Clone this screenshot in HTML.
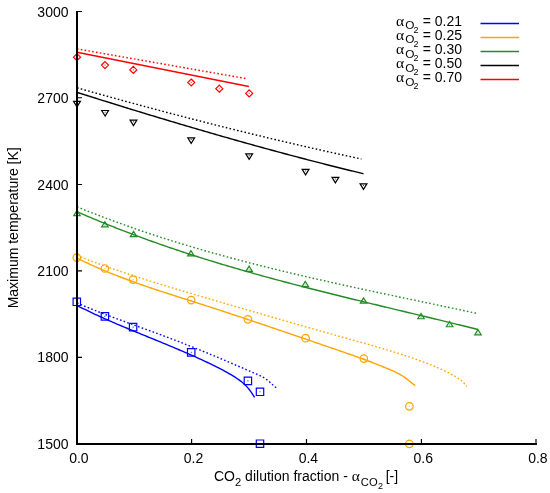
<!DOCTYPE html>
<html><head><meta charset="utf-8"><style>
html,body{margin:0;padding:0;background:#fff;}
svg{display:block;will-change:transform;}
text{font-family:"Liberation Sans",sans-serif;font-size:14px;fill:#000;}
</style></head><body>
<svg width="550" height="493" viewBox="0 0 550 493">
<rect width="550" height="493" fill="#fff"/>
<path d="M77.00,52.30L248.90,86.47" stroke="#ff0000" stroke-width="1.4" fill="none"/>
<path d="M77.00,48.88L247.60,78.85" stroke="#ff0000" stroke-width="1.4" fill="none" stroke-dasharray="1.6 2.25"/>
<path d="M77.00,92.38L79.00,93.01L81.00,93.64L83.00,94.27L85.00,94.90L87.00,95.53L89.00,96.16L91.00,96.79L93.00,97.42L95.00,98.04L97.00,98.67L99.00,99.30L101.00,99.92L103.00,100.55L105.00,101.17L107.00,101.79L109.00,102.42L111.00,103.04L113.00,103.66L115.00,104.28L117.00,104.90L119.00,105.52L121.00,106.14L123.00,106.75L125.00,107.37L127.00,107.99L129.00,108.60L131.00,109.22L133.00,109.83L135.00,110.44L137.00,111.06L139.00,111.67L141.00,112.28L143.00,112.89L145.00,113.50L147.00,114.10L149.00,114.71L151.00,115.32L153.00,115.92L155.00,116.53L157.00,117.13L159.00,117.74L161.00,118.34L163.00,118.94L165.00,119.54L167.00,120.14L169.00,120.74L171.00,121.34L173.00,121.93L175.00,122.53L177.00,123.13L179.00,123.72L181.00,124.31L183.00,124.91L185.00,125.50L187.00,126.09L189.00,126.68L191.00,127.27L193.00,127.85L195.00,128.44L197.00,129.03L199.00,129.61L201.00,130.19L203.00,130.78L205.00,131.36L207.00,131.94L209.00,132.52L211.00,133.10L213.00,133.68L215.00,134.25L217.00,134.83L219.00,135.40L221.00,135.98L223.00,136.55L225.00,137.12L227.00,137.69L229.00,138.26L231.00,138.83L233.00,139.40L235.00,139.96L237.00,140.53L239.00,141.09L241.00,141.65L243.00,142.22L245.00,142.78L247.00,143.34L249.00,143.89L251.00,144.45L253.00,145.01L255.00,145.56L257.00,146.12L259.00,146.67L261.00,147.22L263.00,147.77L265.00,148.32L267.00,148.87L269.00,149.41L271.00,149.96L273.00,150.50L275.00,151.04L277.00,151.59L279.00,152.13L281.00,152.67L283.00,153.20L285.00,153.74L287.00,154.27L289.00,154.81L291.00,155.34L293.00,155.87L295.00,156.40L297.00,156.93L299.00,157.46L301.00,157.99L303.00,158.51L305.00,159.03L307.00,159.56L309.00,160.08L311.00,160.60L313.00,161.12L315.00,161.63L317.00,162.15L319.00,162.66L321.00,163.18L323.00,163.69L325.00,164.20L327.00,164.71L329.00,165.21L331.00,165.72L333.00,166.22L335.00,166.73L337.00,167.23L339.00,167.73L341.00,168.23L343.00,168.72L345.00,169.22L347.00,169.71L349.00,170.21L351.00,170.70L353.00,171.19L355.00,171.68L357.00,172.16L359.00,172.65L361.00,173.13L363.00,173.62L363.50,173.74" stroke="#000000" stroke-width="1.4" fill="none"/>
<path d="M77.00,87.77L79.00,88.34L81.00,88.91L83.00,89.47L85.00,90.04L87.00,90.61L89.00,91.17L91.00,91.74L93.00,92.30L95.00,92.86L97.00,93.42L99.00,93.98L101.00,94.54L103.00,95.10L105.00,95.66L107.00,96.21L109.00,96.77L111.00,97.32L113.00,97.88L115.00,98.43L117.00,98.98L119.00,99.53L121.00,100.08L123.00,100.63L125.00,101.18L127.00,101.72L129.00,102.27L131.00,102.82L133.00,103.36L135.00,103.90L137.00,104.44L139.00,104.99L141.00,105.53L143.00,106.07L145.00,106.60L147.00,107.14L149.00,107.68L151.00,108.21L153.00,108.75L155.00,109.28L157.00,109.81L159.00,110.35L161.00,110.88L163.00,111.41L165.00,111.94L167.00,112.46L169.00,112.99L171.00,113.52L173.00,114.04L175.00,114.56L177.00,115.09L179.00,115.61L181.00,116.13L183.00,116.65L185.00,117.17L187.00,117.69L189.00,118.20L191.00,118.72L193.00,119.24L195.00,119.75L197.00,120.26L199.00,120.78L201.00,121.29L203.00,121.80L205.00,122.31L207.00,122.81L209.00,123.32L211.00,123.83L213.00,124.33L215.00,124.84L217.00,125.34L219.00,125.84L221.00,126.35L223.00,126.85L225.00,127.34L227.00,127.84L229.00,128.34L231.00,128.84L233.00,129.33L235.00,129.83L237.00,130.32L239.00,130.81L241.00,131.30L243.00,131.79L245.00,132.28L247.00,132.77L249.00,133.26L251.00,133.75L253.00,134.23L255.00,134.72L257.00,135.20L259.00,135.68L261.00,136.16L263.00,136.64L265.00,137.12L267.00,137.60L269.00,138.08L271.00,138.56L273.00,139.03L275.00,139.50L277.00,139.98L279.00,140.45L281.00,140.92L283.00,141.39L285.00,141.86L287.00,142.33L289.00,142.80L291.00,143.26L293.00,143.73L295.00,144.19L297.00,144.66L299.00,145.12L301.00,145.58L303.00,146.04L305.00,146.50L307.00,146.96L309.00,147.41L311.00,147.87L313.00,148.32L315.00,148.78L317.00,149.23L319.00,149.68L321.00,150.13L323.00,150.58L325.00,151.03L327.00,151.48L329.00,151.92L331.00,152.37L333.00,152.81L335.00,153.26L337.00,153.70L339.00,154.14L341.00,154.58L343.00,155.02L345.00,155.46L347.00,155.90L349.00,156.33L351.00,156.77L353.00,157.20L355.00,157.63L357.00,158.07L359.00,158.50L361.00,158.93L361.40,159.01" stroke="#000000" stroke-width="1.4" fill="none" stroke-dasharray="1.6 2.25"/>
<path d="M77.00,211.71L79.00,212.58L81.00,213.45L83.00,214.31L85.00,215.17L87.00,216.02L89.00,216.87L91.00,217.72L93.00,218.56L95.00,219.39L97.00,220.22L99.00,221.05L101.00,221.87L103.00,222.69L105.00,223.50L107.00,224.31L109.00,225.11L111.00,225.91L113.00,226.70L115.00,227.49L117.00,228.28L119.00,229.06L121.00,229.84L123.00,230.61L125.00,231.38L127.00,232.14L129.00,232.91L131.00,233.66L133.00,234.41L135.00,235.16L137.00,235.91L139.00,236.65L141.00,237.38L143.00,238.12L145.00,238.85L147.00,239.57L149.00,240.29L151.00,241.01L153.00,241.72L155.00,242.43L157.00,243.14L159.00,243.84L161.00,244.54L163.00,245.24L165.00,245.93L167.00,246.61L169.00,247.30L171.00,247.98L173.00,248.66L175.00,249.33L177.00,250.00L179.00,250.67L181.00,251.33L183.00,251.99L185.00,252.65L187.00,253.31L189.00,253.96L191.00,254.60L193.00,255.25L195.00,255.89L197.00,256.53L199.00,257.16L201.00,257.80L203.00,258.43L205.00,259.05L207.00,259.67L209.00,260.30L211.00,260.91L213.00,261.53L215.00,262.14L217.00,262.75L219.00,263.35L221.00,263.96L223.00,264.56L225.00,265.16L227.00,265.75L229.00,266.34L231.00,266.93L233.00,267.52L235.00,268.11L237.00,268.69L239.00,269.27L241.00,269.85L243.00,270.42L245.00,270.99L247.00,271.56L249.00,272.13L251.00,272.70L253.00,273.26L255.00,273.82L257.00,274.38L259.00,274.94L261.00,275.49L263.00,276.05L265.00,276.60L267.00,277.15L269.00,277.69L271.00,278.24L273.00,278.78L275.00,279.32L277.00,279.86L279.00,280.40L281.00,280.93L283.00,281.46L285.00,282.00L287.00,282.52L289.00,283.05L291.00,283.58L293.00,284.10L295.00,284.63L297.00,285.15L299.00,285.67L301.00,286.19L303.00,286.70L305.00,287.22L307.00,287.73L309.00,288.24L311.00,288.75L313.00,289.26L315.00,289.77L317.00,290.28L319.00,290.78L321.00,291.29L323.00,291.79L325.00,292.29L327.00,292.80L329.00,293.29L331.00,293.79L333.00,294.29L335.00,294.79L337.00,295.28L339.00,295.78L341.00,296.27L343.00,296.76L345.00,297.26L347.00,297.75L349.00,298.24L351.00,298.73L353.00,299.21L355.00,299.70L357.00,300.19L359.00,300.68L361.00,301.16L363.00,301.65L365.00,302.13L367.00,302.62L369.00,303.10L371.00,303.58L373.00,304.07L375.00,304.55L377.00,305.03L379.00,305.51L381.00,305.99L383.00,306.47L385.00,306.95L387.00,307.43L389.00,307.91L391.00,308.39L393.00,308.87L395.00,309.35L397.00,309.83L399.00,310.31L401.00,310.79L403.00,311.27L405.00,311.75L407.00,312.23L409.00,312.71L411.00,313.19L413.00,313.67L415.00,314.15L417.00,314.63L419.00,315.11L421.00,315.59L423.00,316.07L425.00,316.55L427.00,317.03L429.00,317.51L431.00,317.99L433.00,318.48L435.00,318.96L437.00,319.44L439.00,319.93L441.00,320.41L443.00,320.90L445.00,321.38L447.00,321.87L449.00,322.36L451.00,322.85L453.00,323.33L455.00,323.82L457.00,324.31L459.00,324.80L461.00,325.30L463.00,325.79L465.00,326.28L467.00,326.78L469.00,327.27L471.00,327.77L473.00,328.27L475.00,328.77L477.00,329.27L478.00,329.52" stroke="#228b22" stroke-width="1.4" fill="none"/>
<path d="M77.00,206.81L79.00,207.63L81.00,208.44L83.00,209.24L85.00,210.04L87.00,210.84L89.00,211.63L91.00,212.41L93.00,213.20L95.00,213.97L97.00,214.75L99.00,215.52L101.00,216.28L103.00,217.04L105.00,217.80L107.00,218.55L109.00,219.30L111.00,220.04L113.00,220.78L115.00,221.51L117.00,222.24L119.00,222.97L121.00,223.69L123.00,224.41L125.00,225.13L127.00,225.84L129.00,226.54L131.00,227.25L133.00,227.94L135.00,228.64L137.00,229.33L139.00,230.02L141.00,230.70L143.00,231.38L145.00,232.06L147.00,232.73L149.00,233.40L151.00,234.06L153.00,234.72L155.00,235.38L157.00,236.03L159.00,236.68L161.00,237.33L163.00,237.97L165.00,238.61L167.00,239.25L169.00,239.88L171.00,240.51L173.00,241.14L175.00,241.76L177.00,242.38L179.00,243.00L181.00,243.61L183.00,244.22L185.00,244.83L187.00,245.43L189.00,246.03L191.00,246.63L193.00,247.22L195.00,247.81L197.00,248.40L199.00,248.99L201.00,249.57L203.00,250.15L205.00,250.72L207.00,251.30L209.00,251.87L211.00,252.43L213.00,253.00L215.00,253.56L217.00,254.12L219.00,254.68L221.00,255.23L223.00,255.78L225.00,256.33L227.00,256.87L229.00,257.42L231.00,257.96L233.00,258.50L235.00,259.03L237.00,259.56L239.00,260.09L241.00,260.62L243.00,261.15L245.00,261.67L247.00,262.19L249.00,262.71L251.00,263.23L253.00,263.74L255.00,264.25L257.00,264.76L259.00,265.27L261.00,265.77L263.00,266.28L265.00,266.78L267.00,267.28L269.00,267.77L271.00,268.27L273.00,268.76L275.00,269.25L277.00,269.74L279.00,270.23L281.00,270.71L283.00,271.19L285.00,271.68L287.00,272.15L289.00,272.63L291.00,273.11L293.00,273.58L295.00,274.05L297.00,274.53L299.00,274.99L301.00,275.46L303.00,275.93L305.00,276.39L307.00,276.85L309.00,277.32L311.00,277.78L313.00,278.23L315.00,278.69L317.00,279.15L319.00,279.60L321.00,280.05L323.00,280.50L325.00,280.95L327.00,281.40L329.00,281.85L331.00,282.30L333.00,282.74L335.00,283.19L337.00,283.63L339.00,284.07L341.00,284.51L343.00,284.95L345.00,285.39L347.00,285.83L349.00,286.26L351.00,286.70L353.00,287.14L355.00,287.57L357.00,288.00L359.00,288.43L361.00,288.87L363.00,289.30L365.00,289.73L367.00,290.16L369.00,290.58L371.00,291.01L373.00,291.44L375.00,291.87L377.00,292.29L379.00,292.72L381.00,293.14L383.00,293.57L385.00,293.99L387.00,294.41L389.00,294.84L391.00,295.26L393.00,295.68L395.00,296.10L397.00,296.53L399.00,296.95L401.00,297.37L403.00,297.79L405.00,298.21L407.00,298.63L409.00,299.05L411.00,299.47L413.00,299.89L415.00,300.31L417.00,300.73L419.00,301.15L421.00,301.57L423.00,301.99L425.00,302.41L427.00,302.83L429.00,303.25L431.00,303.67L433.00,304.09L435.00,304.51L437.00,304.93L439.00,305.36L441.00,305.78L443.00,306.20L445.00,306.62L447.00,307.04L449.00,307.47L451.00,307.89L453.00,308.32L455.00,308.74L457.00,309.16L459.00,309.59L461.00,310.02L463.00,310.44L465.00,310.87L467.00,311.30L469.00,311.73L471.00,312.16L473.00,312.58L475.00,313.02L476.90,313.43" stroke="#228b22" stroke-width="1.4" fill="none" stroke-dasharray="1.6 2.25"/>
<path d="M77.00,258.20L79.00,259.18L81.00,260.15L83.00,261.11L85.00,262.05L87.00,262.98L89.00,263.91L91.00,264.82L93.00,265.71L95.00,266.60L97.00,267.48L99.00,268.35L101.00,269.20L103.00,270.05L105.00,270.89L107.00,271.71L109.00,272.53L111.00,273.34L113.00,274.14L115.00,274.93L117.00,275.72L119.00,276.49L121.00,277.26L123.00,278.02L125.00,278.77L127.00,279.51L129.00,280.25L131.00,280.98L133.00,281.71L135.00,282.43L137.00,283.14L139.00,283.84L141.00,284.55L143.00,285.24L145.00,285.93L147.00,286.62L149.00,287.30L151.00,287.97L153.00,288.65L155.00,289.31L157.00,289.98L159.00,290.64L161.00,291.30L163.00,291.95L165.00,292.60L167.00,293.25L169.00,293.90L171.00,294.54L173.00,295.19L175.00,295.83L177.00,296.47L179.00,297.11L181.00,297.74L183.00,298.38L185.00,299.02L187.00,299.65L189.00,300.29L191.00,300.93L193.00,301.56L195.00,302.20L197.00,302.84L199.00,303.48L201.00,304.12L203.00,304.76L205.00,305.41L207.00,306.05L209.00,306.70L211.00,307.35L213.00,308.00L215.00,308.65L217.00,309.30L219.00,309.95L221.00,310.61L223.00,311.26L225.00,311.92L227.00,312.58L229.00,313.24L231.00,313.90L233.00,314.56L235.00,315.22L237.00,315.88L239.00,316.55L241.00,317.21L243.00,317.88L245.00,318.55L247.00,319.22L249.00,319.88L251.00,320.55L253.00,321.23L255.00,321.90L257.00,322.57L259.00,323.24L261.00,323.92L263.00,324.59L265.00,325.27L267.00,325.94L269.00,326.62L271.00,327.30L273.00,327.98L275.00,328.66L277.00,329.33L279.00,330.01L281.00,330.69L283.00,331.38L285.00,332.06L287.00,332.74L289.00,333.42L291.00,334.10L293.00,334.79L295.00,335.47L297.00,336.15L299.00,336.84L301.00,337.52L303.00,338.20L305.00,338.89L307.00,339.57L309.00,340.26L311.00,340.94L313.00,341.63L315.00,342.31L317.00,343.00L319.00,343.68L321.00,344.37L323.00,345.05L325.00,345.74L327.00,346.43L329.00,347.11L331.00,347.80L333.00,348.48L335.00,349.17L337.00,349.85L339.00,350.54L341.00,351.23L343.00,351.92L345.00,352.61L347.00,353.31L349.00,354.01L351.00,354.71L353.00,355.42L355.00,356.13L357.00,356.84L359.00,357.57L361.00,358.29L363.00,359.02L365.00,359.76L367.00,360.51L369.00,361.26L371.00,362.01L373.00,362.78L375.00,363.55L377.00,364.34L379.00,365.13L381.00,365.93L383.00,366.74L385.00,367.56L387.00,368.39L389.00,369.23L391.00,370.08L393.00,370.96L395.00,371.87L397.00,372.84L399.00,373.88L401.00,375.02L403.00,376.27L405.00,377.66L407.00,379.17L409.00,380.77L411.00,382.39L413.00,383.95L415.00,385.40L415.30,385.60" stroke="#ffa500" stroke-width="1.4" fill="none"/>
<path d="M77.00,255.50L79.00,256.29L81.00,257.08L83.00,257.85L85.00,258.62L87.00,259.39L89.00,260.15L91.00,260.90L93.00,261.65L95.00,262.40L97.00,263.13L99.00,263.87L101.00,264.59L103.00,265.31L105.00,266.03L107.00,266.74L109.00,267.45L111.00,268.15L113.00,268.85L115.00,269.54L117.00,270.23L119.00,270.91L121.00,271.59L123.00,272.27L125.00,272.94L127.00,273.61L129.00,274.27L131.00,274.93L133.00,275.58L135.00,276.24L137.00,276.89L139.00,277.53L141.00,278.17L143.00,278.81L145.00,279.45L147.00,280.08L149.00,280.71L151.00,281.34L153.00,281.96L155.00,282.58L157.00,283.20L159.00,283.82L161.00,284.43L163.00,285.05L165.00,285.66L167.00,286.27L169.00,286.87L171.00,287.48L173.00,288.08L175.00,288.68L177.00,289.28L179.00,289.88L181.00,290.48L183.00,291.07L185.00,291.67L187.00,292.26L189.00,292.85L191.00,293.44L193.00,294.03L195.00,294.63L197.00,295.22L199.00,295.81L201.00,296.39L203.00,296.98L205.00,297.57L207.00,298.16L209.00,298.75L211.00,299.34L213.00,299.92L215.00,300.51L217.00,301.10L219.00,301.68L221.00,302.27L223.00,302.86L225.00,303.44L227.00,304.03L229.00,304.61L231.00,305.20L233.00,305.78L235.00,306.37L237.00,306.95L239.00,307.53L241.00,308.12L243.00,308.70L245.00,309.28L247.00,309.86L249.00,310.45L251.00,311.03L253.00,311.61L255.00,312.19L257.00,312.77L259.00,313.35L261.00,313.93L263.00,314.51L265.00,315.09L267.00,315.66L269.00,316.24L271.00,316.82L273.00,317.40L275.00,317.97L277.00,318.55L279.00,319.13L281.00,319.70L283.00,320.28L285.00,320.85L287.00,321.43L289.00,322.00L291.00,322.57L293.00,323.15L295.00,323.72L297.00,324.29L299.00,324.86L301.00,325.43L303.00,326.01L305.00,326.58L307.00,327.15L309.00,327.72L311.00,328.28L313.00,328.85L315.00,329.42L317.00,329.99L319.00,330.56L321.00,331.12L323.00,331.69L325.00,332.26L327.00,332.82L329.00,333.39L331.00,333.95L333.00,334.51L335.00,335.08L337.00,335.64L339.00,336.20L341.00,336.76L343.00,337.33L345.00,337.89L347.00,338.45L349.00,339.01L351.00,339.57L353.00,340.13L355.00,340.68L357.00,341.24L359.00,341.80L361.00,342.36L363.00,342.93L365.00,343.49L367.00,344.05L369.00,344.62L371.00,345.19L373.00,345.76L375.00,346.34L377.00,346.92L379.00,347.50L381.00,348.09L383.00,348.68L385.00,349.27L387.00,349.87L389.00,350.48L391.00,351.09L393.00,351.71L395.00,352.33L397.00,352.96L399.00,353.59L401.00,354.24L403.00,354.89L405.00,355.55L407.00,356.21L409.00,356.89L411.00,357.57L413.00,358.26L415.00,358.96L417.00,359.67L419.00,360.40L421.00,361.13L423.00,361.87L425.00,362.62L427.00,363.39L429.00,364.17L431.00,364.96L433.00,365.78L435.00,366.61L437.00,367.45L439.00,368.32L441.00,369.21L443.00,370.12L445.00,371.05L447.00,372.00L449.00,372.99L451.00,374.03L453.00,375.12L455.00,376.29L457.00,377.53L459.00,378.86L461.00,380.34L463.00,382.09L465.00,384.20L466.80,386.50" stroke="#ffa500" stroke-width="1.4" fill="none" stroke-dasharray="1.6 2.25"/>
<path d="M77.00,305.50L79.00,306.51L81.00,307.52L83.00,308.51L85.00,309.49L87.00,310.46L89.00,311.43L91.00,312.38L93.00,313.32L95.00,314.26L97.00,315.18L99.00,316.10L101.00,317.01L103.00,317.91L105.00,318.81L107.00,319.70L109.00,320.58L111.00,321.45L113.00,322.32L115.00,323.18L117.00,324.04L119.00,324.90L121.00,325.74L123.00,326.59L125.00,327.43L127.00,328.26L129.00,329.10L131.00,329.93L133.00,330.75L135.00,331.58L137.00,332.40L139.00,333.22L141.00,334.04L143.00,334.86L145.00,335.68L147.00,336.49L149.00,337.31L151.00,338.13L153.00,338.94L155.00,339.76L157.00,340.58L159.00,341.40L161.00,342.22L163.00,343.05L165.00,343.87L167.00,344.70L169.00,345.53L171.00,346.37L173.00,347.20L175.00,348.05L177.00,348.89L179.00,349.74L181.00,350.60L183.00,351.45L185.00,352.32L187.00,353.19L189.00,354.06L191.00,354.95L193.00,355.83L195.00,356.73L197.00,357.63L199.00,358.54L201.00,359.46L203.00,360.38L205.00,361.31L207.00,362.25L209.00,363.20L211.00,364.16L213.00,365.13L215.00,366.11L217.00,367.11L219.00,368.12L221.00,369.16L223.00,370.21L225.00,371.30L227.00,372.41L229.00,373.55L231.00,374.72L233.00,375.93L235.00,377.17L237.00,378.47L239.00,379.84L241.00,381.32L243.00,382.97L245.00,384.80L247.00,386.87L249.00,389.21L251.00,391.83L253.00,394.78L254.60,397.40" stroke="#0000ff" stroke-width="1.4" fill="none"/>
<path d="M77.00,303.00L79.00,303.85L81.00,304.70L83.00,305.54L85.00,306.37L87.00,307.20L89.00,308.01L91.00,308.82L93.00,309.62L95.00,310.41L97.00,311.20L99.00,311.98L101.00,312.76L103.00,313.53L105.00,314.29L107.00,315.05L109.00,315.81L111.00,316.56L113.00,317.31L115.00,318.05L117.00,318.79L119.00,319.53L121.00,320.26L123.00,320.99L125.00,321.72L127.00,322.45L129.00,323.18L131.00,323.90L133.00,324.63L135.00,325.35L137.00,326.08L139.00,326.80L141.00,327.53L143.00,328.26L145.00,328.99L147.00,329.71L149.00,330.45L151.00,331.18L153.00,331.92L155.00,332.65L157.00,333.39L159.00,334.14L161.00,334.88L163.00,335.63L165.00,336.38L167.00,337.14L169.00,337.90L171.00,338.66L173.00,339.42L175.00,340.18L177.00,340.95L179.00,341.72L181.00,342.50L183.00,343.28L185.00,344.06L187.00,344.84L189.00,345.63L191.00,346.42L193.00,347.22L195.00,348.02L197.00,348.82L199.00,349.62L201.00,350.43L203.00,351.24L205.00,352.06L207.00,352.88L209.00,353.71L211.00,354.53L213.00,355.37L215.00,356.20L217.00,357.04L219.00,357.89L221.00,358.73L223.00,359.59L225.00,360.44L227.00,361.30L229.00,362.16L231.00,363.03L233.00,363.89L235.00,364.76L237.00,365.63L239.00,366.49L241.00,367.36L243.00,368.23L245.00,369.10L247.00,369.96L249.00,370.83L251.00,371.69L253.00,372.55L255.00,373.40L257.00,374.26L259.00,375.15L261.00,376.12L263.00,377.19L265.00,378.41L267.00,379.82L269.00,381.45L271.00,383.24L273.00,385.06L275.00,386.77L277.00,388.23L277.60,388.60" stroke="#0000ff" stroke-width="1.4" fill="none" stroke-dasharray="1.6 2.25"/>
<path d="M77.00,53.70L80.50,57.20L77.00,60.70L73.50,57.20ZM105.00,61.60L108.50,65.10L105.00,68.60L101.50,65.10ZM133.30,66.40L136.80,69.90L133.30,73.40L129.80,69.90ZM191.20,79.00L194.70,82.50L191.20,86.00L187.70,82.50ZM219.30,85.20L222.80,88.70L219.30,92.20L215.80,88.70ZM249.20,89.90L252.70,93.40L249.20,96.90L245.70,93.40Z" stroke="#ff0000" stroke-width="1.2" fill="none"/><path d="M76.50,57.20h1M104.50,65.10h1M132.80,69.90h1M190.70,82.50h1M218.80,88.70h1M248.70,93.40h1" stroke="#ff0000" stroke-width="1.1" fill="none" opacity="0.75"/>
<path d="M77.00,106.91L73.60,101.40L80.40,101.40ZM105.10,116.01L101.70,110.50L108.50,110.50ZM133.50,125.61L130.10,120.10L136.90,120.10ZM191.20,143.31L187.80,137.80L194.60,137.80ZM249.20,159.41L245.80,153.90L252.60,153.90ZM305.60,174.81L302.20,169.30L309.00,169.30ZM335.40,182.81L332.00,177.30L338.80,177.30ZM363.50,189.31L360.10,183.80L366.90,183.80Z" stroke="#000000" stroke-width="1.2" fill="none"/><path d="M76.50,103.10h1M104.60,112.20h1M133.00,121.80h1M190.70,139.50h1M248.70,155.60h1M305.10,171.00h1M334.90,179.00h1M363.00,185.50h1" stroke="#000000" stroke-width="1.1" fill="none" opacity="0.75"/>
<path d="M77.00,210.36L73.75,215.62L80.25,215.62ZM104.90,221.66L101.65,226.93L108.15,226.93ZM133.60,231.36L130.35,236.62L136.85,236.62ZM190.90,250.56L187.65,255.82L194.15,255.82ZM249.10,266.16L245.85,271.43L252.35,271.43ZM305.30,281.36L302.05,286.62L308.55,286.62ZM363.60,297.86L360.35,303.12L366.85,303.12ZM421.00,313.46L417.75,318.73L424.25,318.73ZM449.60,321.46L446.35,326.73L452.85,326.73ZM478.00,329.56L474.75,334.82L481.25,334.82Z" stroke="#228b22" stroke-width="1.2" fill="none"/><path d="M76.50,214.00h1M104.40,225.30h1M133.10,235.00h1M190.40,254.20h1M248.60,269.80h1M304.80,285.00h1M363.10,301.50h1M420.50,317.10h1M449.10,325.10h1M477.50,333.20h1" stroke="#228b22" stroke-width="1.1" fill="none" opacity="0.75"/>
<path d="M80.55,257.60A3.75,3.75 0 1 1 73.05,257.60A3.75,3.75 0 1 1 80.55,257.60ZM108.65,268.50A3.75,3.75 0 1 1 101.15,268.50A3.75,3.75 0 1 1 108.65,268.50ZM136.85,279.60A3.75,3.75 0 1 1 129.35,279.60A3.75,3.75 0 1 1 136.85,279.60ZM194.95,300.10A3.75,3.75 0 1 1 187.45,300.10A3.75,3.75 0 1 1 194.95,300.10ZM251.65,319.30A3.75,3.75 0 1 1 244.15,319.30A3.75,3.75 0 1 1 251.65,319.30ZM309.35,338.20A3.75,3.75 0 1 1 301.85,338.20A3.75,3.75 0 1 1 309.35,338.20ZM367.55,358.60A3.75,3.75 0 1 1 360.05,358.60A3.75,3.75 0 1 1 367.55,358.60ZM413.15,406.30A3.75,3.75 0 1 1 405.65,406.30A3.75,3.75 0 1 1 413.15,406.30ZM413.15,443.80A3.75,3.75 0 1 1 405.65,443.80A3.75,3.75 0 1 1 413.15,443.80Z" stroke="#ffa500" stroke-width="1.2" fill="none"/><path d="M76.30,257.60h1M104.40,268.50h1M132.60,279.60h1M190.70,300.10h1M247.40,319.30h1M305.10,338.20h1M363.30,358.60h1M408.90,406.30h1M408.90,443.80h1" stroke="#ffa500" stroke-width="1.1" fill="none" opacity="0.75"/>
<path d="M73.10,298.10h7.40v7.40h-7.40ZM101.20,312.70h7.40v7.40h-7.40ZM129.40,323.40h7.40v7.40h-7.40ZM187.50,348.70h7.40v7.40h-7.40ZM244.20,377.20h7.40v7.40h-7.40ZM256.30,388.10h7.40v7.40h-7.40ZM256.30,440.00h7.40v7.40h-7.40Z" stroke="#0000ff" stroke-width="1.2" fill="none"/><path d="M76.30,301.80h1M104.40,316.40h1M132.60,327.10h1M190.70,352.40h1M247.40,380.90h1M259.50,391.80h1M259.50,443.70h1" stroke="#0000ff" stroke-width="1.1" fill="none" opacity="0.75"/>
<path d="M77,11V444H537" stroke="#000" stroke-width="2" fill="none" stroke-linejoin="miter"/>
<path d="M77,11.5H82M77,97.7H82M77,184.5H82M77,270.9H82M77,357.4H82M191.6,444V439M306.5,444V439M421.4,444V439M536,444V439" stroke="#000" stroke-width="1.15" fill="none"/>
<path d="M480.5,23.50H519" stroke="#0000ff" stroke-width="1.35"/>
<path d="M480.5,37.50H519" stroke="#ffa500" stroke-width="1.35"/>
<path d="M480.5,51.50H519" stroke="#228b22" stroke-width="1.35"/>
<path d="M480.5,65.50H519" stroke="#000000" stroke-width="1.35"/>
<path d="M480.5,79.50H519" stroke="#ff0000" stroke-width="1.35"/>
<text x="68.5" y="16.5" text-anchor="end">3000</text>
<text x="68.5" y="102.7" text-anchor="end">2700</text>
<text x="68.5" y="189.5" text-anchor="end">2400</text>
<text x="68.5" y="275.9" text-anchor="end">2100</text>
<text x="68.5" y="362.4" text-anchor="end">1800</text>
<text x="68.5" y="449.0" text-anchor="end">1500</text>
<text x="78.9" y="462.8" text-anchor="middle">0.0</text>
<text x="193.5" y="462.8" text-anchor="middle">0.2</text>
<text x="308.4" y="462.8" text-anchor="middle">0.4</text>
<text x="423.3" y="462.8" text-anchor="middle">0.6</text>
<text x="537.9" y="462.8" text-anchor="middle">0.8</text>
<text transform="translate(18.3,227.8) rotate(-90)" text-anchor="middle">Maximum temperature [K]</text>
<text x="214" y="481">CO<tspan font-size="11.2" dy="4.6">2</tspan><tspan dy="-4.6"> dilution fraction - </tspan><tspan font-family="Liberation Serif" font-size="15.5">α</tspan><tspan font-size="11.2" dx="1" dy="4.6">CO</tspan><tspan font-size="9" dx="0.3" dy="3.3">2</tspan><tspan dx="-1.2" dy="-7.9"> [-]</tspan></text>
<text x="396" y="25.60"><tspan font-family="Liberation Serif" font-size="15.5">α</tspan><tspan font-size="11.8" dx="1.2" dy="3.8">O</tspan><tspan font-size="9" dx="-1" dy="3.3">2</tspan></text>
<text x="462" y="25.60" text-anchor="end">= 0.21</text>
<text x="396" y="39.67"><tspan font-family="Liberation Serif" font-size="15.5">α</tspan><tspan font-size="11.8" dx="1.2" dy="3.8">O</tspan><tspan font-size="9" dx="-1" dy="3.3">2</tspan></text>
<text x="462" y="39.67" text-anchor="end">= 0.25</text>
<text x="396" y="53.74"><tspan font-family="Liberation Serif" font-size="15.5">α</tspan><tspan font-size="11.8" dx="1.2" dy="3.8">O</tspan><tspan font-size="9" dx="-1" dy="3.3">2</tspan></text>
<text x="462" y="53.74" text-anchor="end">= 0.30</text>
<text x="396" y="67.81"><tspan font-family="Liberation Serif" font-size="15.5">α</tspan><tspan font-size="11.8" dx="1.2" dy="3.8">O</tspan><tspan font-size="9" dx="-1" dy="3.3">2</tspan></text>
<text x="462" y="67.81" text-anchor="end">= 0.50</text>
<text x="396" y="81.88"><tspan font-family="Liberation Serif" font-size="15.5">α</tspan><tspan font-size="11.8" dx="1.2" dy="3.8">O</tspan><tspan font-size="9" dx="-1" dy="3.3">2</tspan></text>
<text x="462" y="81.88" text-anchor="end">= 0.70</text>
</svg>
</body></html>
